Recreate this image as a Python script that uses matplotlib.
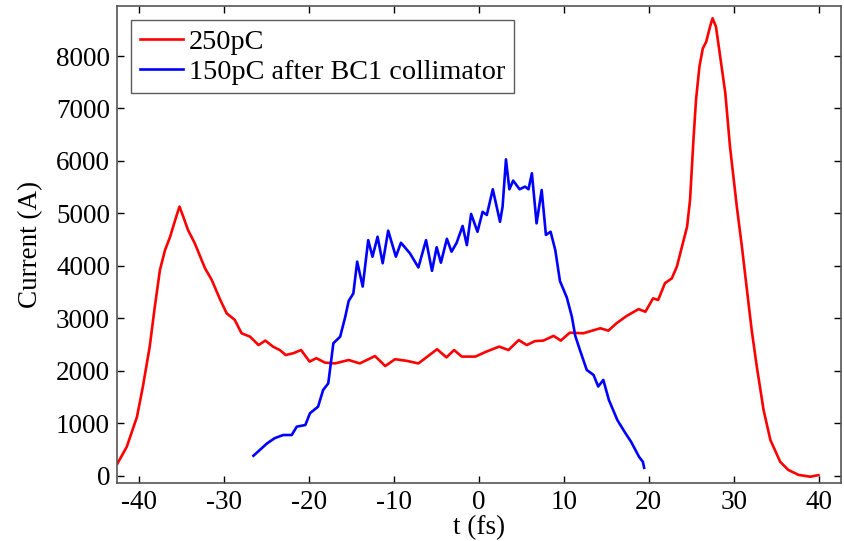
'''
Imports:
'''
import matplotlib
matplotlib.use("Agg")
import matplotlib.pyplot as plt

'''
Data (read off the reference):
'''
red_label = "250pC"
red_t = [-42.5, -41.4, -40.2, -39.5, -38.7, -38.1, -37.5, -36.9, -36.3, -35.7,
         -35.2, -34.75, -34.2, -33.4, -32.2, -31.4, -30.4, -29.65, -28.7, -27.9,
         -26.9, -25.9, -25.1, -24.2, -23.4, -22.7, -21.8, -20.9, -19.9, -19.1,
         -18.1, -16.9, -15.3, -14.0, -12.2, -11.0, -9.85, -8.5, -7.1, -4.9,
         -3.8, -2.9, -2.0, -0.4, 0.9, 2.4, 3.5, 4.7, 5.65, 6.6,
         7.6, 8.8, 9.65, 10.7, 12.3, 14.3, 15.25, 16.2, 17.4, 18.8,
         19.6, 20.5, 21.1, 21.9, 22.7, 23.3, 23.9, 24.5, 24.85, 25.25,
         25.55, 25.95, 26.35, 26.75, 27.2, 27.5, 27.9, 28.4, 29.0, 29.55,
         30.35, 30.95, 31.5, 32.1, 32.7, 33.5, 34.3, 35.45, 36.4, 37.6,
         39.0, 39.95]
red_i = [230, 550, 1120, 1700, 2460, 3220, 3920, 4300, 4555, 4875,
         5130, 4935, 4685, 4430, 3955, 3730, 3350, 3095, 2970, 2715,
         2650, 2490, 2575, 2460, 2395, 2300, 2335, 2395, 2175, 2240,
         2155, 2140, 2205, 2140, 2280, 2090, 2220, 2190, 2140, 2410,
         2255, 2395, 2270, 2270, 2365, 2460, 2395, 2585, 2490, 2565,
         2575, 2665, 2575, 2725, 2715, 2810, 2765, 2905, 3045, 3175,
         3125, 3380, 3350, 3670, 3760, 3985, 4365, 4745, 5255, 6400,
         7160, 7795, 8145, 8270, 8560, 8720, 8560, 7985, 7290, 6270,
         5130, 4365, 3600, 2775, 2080, 1250, 680, 265, 110, 15,
         -20, 10]

blue_label = "150pC after BC1 collimator"
blue_t = [-26.5, -24.9, -24.0, -23.0, -22.0, -21.4, -20.4, -19.85, -18.9, -18.3,
          -17.7, -17.1, -16.3, -15.7, -15.3, -14.75, -14.3, -13.65, -13.0, -12.5,
          -11.9, -11.3, -10.65, -9.75, -9.15, -8.1, -7.1, -6.2, -5.5, -4.95,
          -4.45, -3.75, -3.2, -2.6, -1.9, -1.4, -0.9, -0.15, 0.45, 0.95,
          1.65, 2.5, 2.8, 3.2, 3.6, 4.05, 4.8, 5.45, 5.85, 6.25,
          6.8, 7.4, 7.9, 8.45, 9.0, 9.55, 10.35, 10.95, 11.35, 11.9,
          12.7, 13.5, 14.05, 14.65, 15.3, 16.3, 17.25, 17.9, 18.85, 19.3,
          19.45]
blue_i = [380, 615, 715, 775, 775, 935, 965, 1190, 1315, 1635,
          1760, 2525, 2650, 3030, 3330, 3475, 4080, 3605, 4490, 4175,
          4555, 4050, 4670, 4175, 4440, 4240, 3970, 4490, 3905, 4355,
          4060, 4515, 4270, 4440, 4760, 4395, 4990, 4650, 5030, 4970,
          5460, 4840, 5125, 6030, 5460, 5625, 5460, 5510, 5460, 5765,
          4810, 5445, 4590, 4650, 4300, 3710, 3400, 3030, 2665, 2395,
          2015, 1920, 1700, 1825, 1445, 1060, 810, 650, 360, 265,
          150]

x_ticks = [-40, -30, -20, -10, 0, 10, 20, 30, 40]
y_ticks = [0, 1000, 2000, 3000, 4000, 5000, 6000, 7000, 8000]

'''
Setup:
'''
plt.rcParams['font.family'] = ['Liberation Serif', 'DejaVu Serif']
fs = 19.5

fig = plt.figure(figsize=(8.44, 5.41), dpi=100)
axis = fig.add_axes([0.1386, 0.1072, 0.9964 - 0.1386, 0.9895 - 0.1072])

'''
Create Graphic:
'''
axis.plot(red_t, red_i, color="#ff0000", linewidth=1.9, label=red_label)
axis.plot(blue_t, blue_i, color="#0000ff", linewidth=1.9, label=blue_label)

axis.set_xlim(-42.55, 42.6)
axis.set_ylim(-140, 8960)
axis.set_xticks(x_ticks)
axis.set_yticks(y_ticks)
axis.set_xticklabels([str(t) for t in x_ticks])
axis.tick_params(direction="in", length=5, width=1, top=True, right=True,
                 labelsize=fs, pad=5)
for spine in axis.spines.values():
    spine.set_color("#555555")
    spine.set_linewidth(1.2)

axis.set_xlabel("t (fs)", fontsize=fs, labelpad=0)
axis.set_ylabel("Current (A)", fontsize=fs, labelpad=9)

leg = axis.legend(loc="upper left", bbox_to_anchor=(0.0195, 0.969),
                  handlelength=1.55, handletextpad=0.2, borderpad=0.3,
                  labelspacing=0.15, fancybox=False, fontsize=20.3,
                  borderaxespad=0)
leg.get_frame().set_edgecolor("#333333")
leg.get_frame().set_linewidth(1.0)

fig.savefig("out.png", dpi=100)
